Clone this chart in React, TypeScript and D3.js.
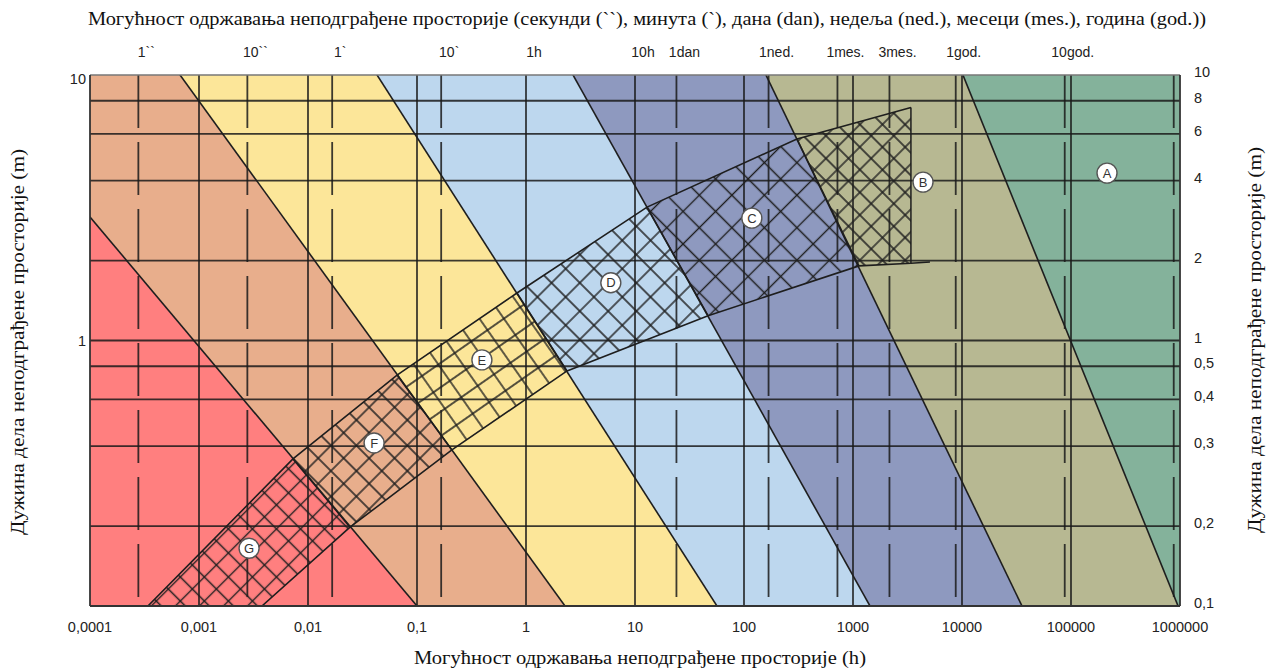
import React from "react";
import * as d3 from "d3";

// ---------- data ----------
const hoursTicks = [1e-4, 1e-3, 1e-2, 1e-1, 1, 10, 100, 1000, 10000, 100000, 1000000];
const hoursTickLabels = ["0,0001", "0,001", "0,01", "0,1", "1", "10", "100", "1000", "10000", "100000", "1000000"];
const decadeGrid = [1e-3, 1e-2, 1e-1, 1, 10, 100, 1000, 10000, 100000];
const timeUnitHours = [1 / 3600, 10 / 3600, 1 / 60, 10 / 60, 1, 10, 24, 168, 720, 2160, 8760, 87600];
const timeUnitLabels = ["1``", "10``", "1`", "10`", "1h", "10h", "1dan", "1ned.", "1mes.", "3mes.", "1god.", "10god."];
const dashedGridHours = [1 / 3600, 10 / 3600, 1 / 60, 10 / 60, 24, 168, 720, 2160, 8760, 87600, 876000];
const lengthGrid = [8, 6, 4, 2, 1, 0.8, 0.6, 0.4, 0.2];
const leftTicks = [10, 1];
const leftTickLabels = ["10", "1"];
const rightTicks = [10, 8, 6, 4, 2, 1, 0.8, 0.6, 0.4, 0.2, 0.1];
const rightTickLabels = ["10", "8", "6", "4", "2", "1", "0,5", "0,4", "0,3", "0,2", "0,1"];

const zoneColors = ["#FF7F7F", "#E8AE8C", "#FCE699", "#BDD7EE", "#8E99BF", "#B7B892", "#84B29B"];
// boundary lines between zones: two points each (hours, metres)
const boundaryStart: [number, number][] = [[1e-4, 2.92], [6.7e-4, 10], [0.043, 10], [2.7, 10], [159, 10], [10200, 10]];
const boundaryEnd: [number, number][] = [[0.1, 0.1], [2.28, 0.1], [56.5, 0.1], [1432, 0.1], [35500, 0.1], [960000, 0.1]];

// hatched band (hours, metres)
const bandUpper: [number, number][] = [[3.4e-4, 0.1], [0.00728, 0.358], [0.0656, 0.741], [0.826, 1.51], [12.9, 3.18], [306, 5.74], [3400, 7.55]];
const bandLower: [number, number][] = [[0.00378, 0.1], [0.0243, 0.198], [0.209, 0.387], [2.38, 0.768], [46.8, 1.24], [1135, 1.91], [3400, 1.955]];
const bandLowerTail: [number, number][] = [[3400, 1.955], [5080, 1.975]];
const segmentNames = ["G", "F", "E", "D", "C", "B"];
const hatchAngle = [45, 45, -35, 45, 45, 45];
const hatchSpacing = [17, 18, 20, 20, 23, 16];

const labelNames = ["A", "B", "C", "D", "E", "F", "G"];
const labelT = [214000, 4390, 118, 6.0, 0.394, 0.0404, 0.00288];
const labelL = [4.27, 3.95, 2.89, 1.65, 0.845, 0.411, 0.165];

const topTitle = "Могућност одржавања неподграђене просторије (секунди  (``), минута (`), дана (dan), недеља (ned.), месеци (mes.), година (god.))";
const bottomTitle = "Могућност одржавања неподграђене просторије (h)";
const sideTitle = "Дужина дела неподграђене просторије (m)";

// ---------- layout ----------
const W = 1271, H = 669;
const PL = 90, PR = 1180, PT = 75, PB = 606;
const SANS = "'Liberation Sans', Arial, sans-serif";
const SERIF = "'Liberation Serif', 'Times New Roman', serif";

const x = d3.scaleLog().domain([1e-4, 1e6]).range([PL, PR]);
const y = d3.scaleLog().domain([0.1, 10]).range([PB, PT]);

function extend(p1: [number, number], p2: [number, number]): [[number, number], [number, number]] {
  const a = [Math.log10(p1[0]), Math.log10(p1[1])];
  const b = [Math.log10(p2[0]), Math.log10(p2[1])];
  const m = (b[1] - a[1]) / (b[0] - a[0]);
  const tAt = (lt: number) => Math.pow(10, a[0] + (lt - a[1]) / m);
  return [[tAt(2), 100], [tAt(-2), 0.01]];
}

const line = d3.line<[number, number]>().x(d => x(d[0])).y(d => y(d[1]));
const closed = (pts: [number, number][]) => line(pts) + "Z";

export default function App() {
  const ext = boundaryStart.map((s, i) => extend(s, boundaryEnd[i]));
  const zones: [number, number][][] = zoneColors.map((_, i) => {
    const left: [[number, number], [number, number]] = i === 0 ? [[1e-10, 100], [1e-10, 0.01]] : ext[i - 1];
    const right: [[number, number], [number, number]] = i === zoneColors.length - 1 ? [[1e10, 100], [1e10, 0.01]] : ext[i];
    return [left[0], right[0], right[1], left[1]];
  });
  const segments: [number, number][][] = segmentNames.map((_, i) => [bandUpper[i], bandUpper[i + 1], bandLower[i + 1], bandLower[i]]);
  const gridColor = "#1a1a1a";

  return (
    <svg width={W} height={H} style={{ position: "absolute", left: 0, top: 0, background: "#fff" }}>
      <defs>
        <clipPath id="plotClip">
          <rect x={PL} y={PT} width={PR - PL} height={PB - PT} />
        </clipPath>
        {segmentNames.map((n, i) => {
          const d = hatchSpacing[i];
          return (
            <pattern key={n} id={`hatch${i}`} patternUnits="userSpaceOnUse" width={d} height={d}
              patternTransform={`rotate(${hatchAngle[i]})`}>
              <path d={`M0 ${d / 2} H${d} M${d / 2} 0 V${d}`} stroke="#1e1e1e" strokeWidth={1.4} fill="none" />
            </pattern>
          );
        })}
      </defs>

      <g clipPath="url(#plotClip)">
        {zones.map((z, i) => (
          <path key={i} d={closed(z)} fill={zoneColors[i]} />
        ))}
        {/* grid */}
        {lengthGrid.map(v => (
          <line key={"h" + v} x1={PL} x2={PR} y1={y(v)} y2={y(v)} stroke={gridColor} strokeWidth={1.8} strokeOpacity={0.85} />
        ))}
        {decadeGrid.map(v => (
          <line key={"v" + v} x1={x(v)} x2={x(v)} y1={PT} y2={PB} stroke={gridColor} strokeWidth={1.8} strokeOpacity={0.85} />
        ))}
        {dashedGridHours.map(v => (
          <line key={"d" + v} x1={x(v)} x2={x(v)} y1={PT} y2={PB} stroke={gridColor} strokeWidth={1.8}
            strokeOpacity={0.85} strokeDasharray="53 14" />
        ))}
        {/* hatched band */}
        {segments.map((s, i) => (
          <path key={"seg" + i} d={closed(s)} fill={`url(#hatch${i})`} />
        ))}
        {/* zone boundary lines */}
        {ext.map((e, i) => (
          <path key={"b" + i} d={line(e) || ""} stroke="#1e1e1e" strokeWidth={1.6} fill="none" />
        ))}
        {/* band outline */}
        <path d={line(bandUpper) || ""} stroke="#1e1e1e" strokeWidth={1.6} fill="none" />
        <path d={line(bandLower) || ""} stroke="#1e1e1e" strokeWidth={1.6} fill="none" />
        <path d={line(bandLowerTail) || ""} stroke="#1e1e1e" strokeWidth={1.6} fill="none" />
        {bandUpper.map((u, i) => (i > 0 ? (
          <path key={"div" + i} d={line([u, bandLower[i]]) || ""} stroke="#1e1e1e" strokeWidth={1.5} fill="none" />
        ) : null))}
      </g>

      {/* frame */}
      <line x1={PL} x2={PR} y1={PT} y2={PT} stroke="#777" strokeWidth={1.6} />
      <line x1={PL} x2={PR} y1={PB} y2={PB} stroke="#333" strokeWidth={1.8} />
      <line x1={PL} x2={PL} y1={PT} y2={PB} stroke="#333" strokeWidth={1.8} />
      <line x1={PR} x2={PR} y1={PT} y2={PB} stroke="#333" strokeWidth={1.8} />

      {/* zone labels */}
      {labelNames.map((n, i) => (
        <g key={n} transform={`translate(${x(labelT[i])},${y(labelL[i])})`}>
          <circle r={10} fill="#fff" stroke="#555" strokeWidth={1.4} />
          <text textAnchor="middle" dy="0.36em" fontFamily={SANS} fontSize={13} fill="#333">{n}</text>
        </g>
      ))}

      {/* bottom axis */}
      {hoursTicks.map((v, i) => (
        <text key={"bt" + i} x={x(v)} y={632} textAnchor="middle" fontFamily={SANS} fontSize={14.5} fill="#222">
          {hoursTickLabels[i]}
        </text>
      ))}
      {/* top axis */}
      {timeUnitHours.map((v, i) => (
        <text key={"tt" + i} x={x(v) + 8} y={57} textAnchor="middle" fontFamily={SANS} fontSize={14} fill="#222">
          {timeUnitLabels[i]}
        </text>
      ))}
      {/* left axis */}
      {leftTicks.map((v, i) => (
        <text key={"lt" + i} x={86} y={Math.max(y(v), 79) + 5} textAnchor="end" fontFamily={SANS} fontSize={14.5} fill="#222">
          {leftTickLabels[i]}
        </text>
      ))}
      {/* right axis */}
      {rightTicks.map((v, i) => (
        <text key={"rt" + i} x={1194} y={y(v) + 2} textAnchor="start" fontFamily={SANS} fontSize={14.5} fill="#222">
          {rightTickLabels[i]}
        </text>
      ))}

      {/* titles */}
      <text x={647} y={25} textAnchor="middle" fontFamily={SERIF} fontSize={18} fill="#111"
        textLength={1118} lengthAdjust="spacingAndGlyphs">{topTitle}</text>
      <text x={640} y={664} textAnchor="middle" fontFamily={SERIF} fontSize={18} fill="#111"
        textLength={452} lengthAdjust="spacingAndGlyphs">{bottomTitle}</text>
      <text transform="translate(24,342) rotate(-90)" textAnchor="middle" fontFamily={SERIF} fontSize={18} fill="#111"
        textLength={386} lengthAdjust="spacingAndGlyphs">{sideTitle}</text>
      <text transform="translate(1261,340) rotate(-90)" textAnchor="middle" fontFamily={SERIF} fontSize={18} fill="#111"
        textLength={386} lengthAdjust="spacingAndGlyphs">{sideTitle}</text>
    </svg>
  );
}
